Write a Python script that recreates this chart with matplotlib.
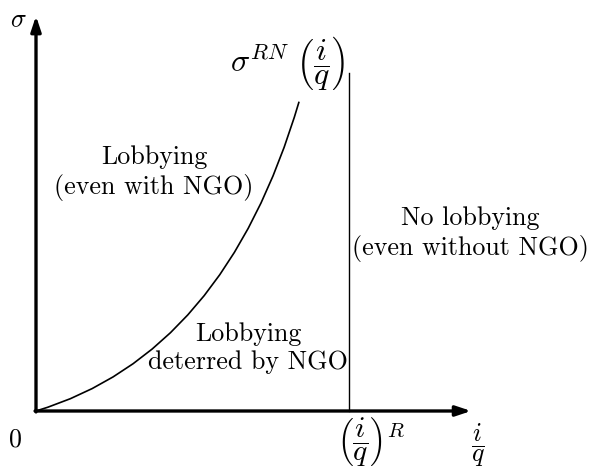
import numpy as np
import matplotlib
matplotlib.use('Agg')
import matplotlib.pyplot as plt
from matplotlib.path import Path
from matplotlib.patches import PathPatch

plt.rcParams['mathtext.fontset'] = 'cm'
plt.rcParams['font.family'] = ['cmr10', 'DejaVu Serif']

# threshold curve sigma^RN(i/q): quadratic bezier (start, control, end),
# read off the picture (x = i/q, y = sigma)
curve_x = [0.0, 0.6026, 0.8403]
curve_y = [0.0, 0.1802, 0.9882]
x_R = 1.0        # (i/q)^R
vline_top = 1.08

regions = ['Lobbying\n(even with NGO)', 'Lobbying\ndeterred by NGO',
           'No lobbying\n(even without NGO)']
region_xy = [(0.377, 0.76), (0.677, 0.201), (1.387, 0.565)]

fig = plt.figure(figsize=(5.92, 4.71), dpi=100)
ax = fig.add_axes([0, 0, 1, 1])
ax.set_xlim(-0.115, 1.776)
ax.set_ylim(-0.1917, 1.313)
ax.axis('off')

# axes with arrows
arrow = dict(arrowstyle='-|>,head_length=0.9,head_width=0.3',
             lw=2.4, color='black', shrinkA=0, shrinkB=0)
ax.annotate('', xy=(1.39, 0), xytext=(-0.003, 0), arrowprops=arrow)
ax.annotate('', xy=(0, 1.262), xytext=(0, -0.003), arrowprops=arrow)

curve = Path(list(zip(curve_x, curve_y)), [Path.MOVETO, Path.CURVE3, Path.CURVE3])
ax.add_patch(PathPatch(curve, facecolor='none', edgecolor='black', lw=1.2))
ax.plot([x_R, x_R], [0, vline_top], color='black', lw=1.0)

fs = 18.7
for txt, (x, y) in zip(regions, region_xy):
    ax.text(x, y, txt, ha='center', va='center', fontsize=fs, linespacing=1.22)

ax.text(-0.056, 1.2476, r'$\sigma$', ha='center', va='center', fontsize=fs)
ax.text(-0.067, -0.093, '0', ha='center', va='center', fontsize=fs)
ax.text(0.62, 1.109, r'$\sigma^{RN}\ \left(\dfrac{i}{q}\right)$',
        ha='left', va='center', fontsize=23)
ax.text(0.962, -0.013, r'$\left(\dfrac{i}{q}\right)^R$',
        ha='left', va='top', fontsize=21.5)
ax.text(1.412, -0.109, r'$\dfrac{i}{q}$', ha='center', va='center', fontsize=fs)

fig.savefig('out.png', dpi=100)
